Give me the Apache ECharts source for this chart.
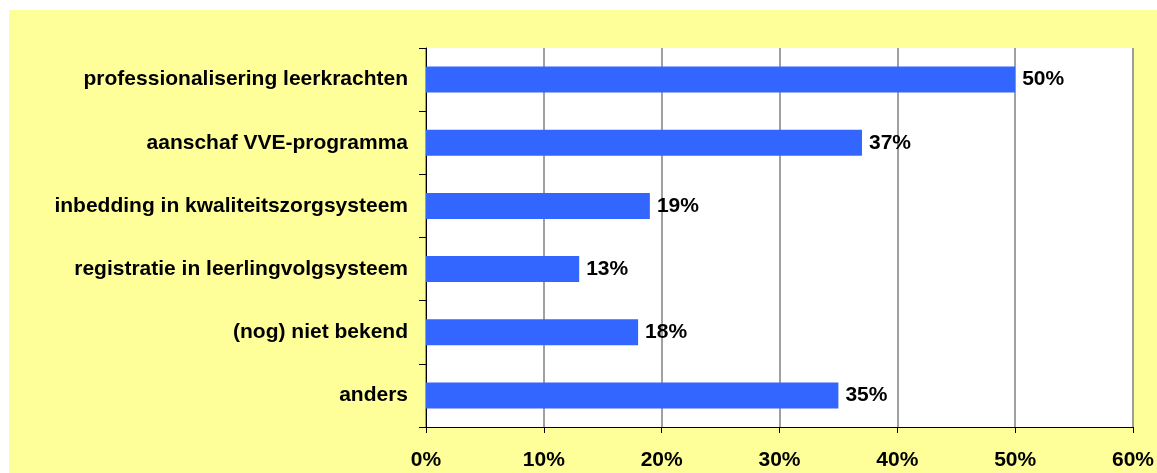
<!DOCTYPE html>
<html>
<head>
<meta charset="utf-8">
<script src="https://cdn.jsdelivr.net/npm/echarts@6/dist/echarts.min.js"></script>
<style>
  html, body { margin: 0; padding: 0; background: #fff; }
  #main { position: absolute; left: 9px; top: 10px; width: 1148px; height: 463px; }
</style>
</head>
<body>
<div id="main"></div>
<script>
// categorieen (van boven naar beneden)
var categories = [
    'professionalisering leerkrachten',
    'aanschaf VVE-programma',
    'inbedding in kwaliteitszorgsysteem',
    'registratie in leerlingvolgsysteem',
    '(nog) niet bekend',
    'anders'
];
// percentages
var values = [50, 37, 19, 13, 18, 35];
var xTicks = [0, 10, 20, 30, 40, 50, 60];

var chart = echarts.init(document.getElementById('main'));
var font = 'Liberation Sans, Arial, sans-serif';

var option = {
    backgroundColor: '#FFFF99',
    animation: false,
    grid: {
        left: 417,
        top: 38,
        right: 24,
        bottom: 46,
        show: true,
        backgroundColor: '#fff',
        borderWidth: 0
    },
    xAxis: {
        type: 'value',
        min: xTicks[0],
        max: xTicks[xTicks.length - 1],
        interval: 10,
        axisLine: { show: true, lineStyle: { color: '#000', width: 1 } },
        axisTick: { show: true, length: 6, lineStyle: { color: '#000' } },
        splitLine: { show: true, lineStyle: { color: '#808080', width: 1.5 } },
        axisLabel: {
            formatter: '{value}%',
            color: '#000',
            fontFamily: font,
            fontWeight: 'bold',
            fontSize: 21,
            margin: 23
        }
    },
    yAxis: {
        type: 'category',
        data: categories,
        inverse: true,
        axisLine: { show: true, lineStyle: { color: '#000', width: 1 } },
        axisTick: { show: true, length: 7, lineStyle: { color: '#000' } },
        axisLabel: {
            color: '#000',
            fontFamily: font,
            fontWeight: 'bold',
            fontSize: 21,
            margin: 18
        }
    },
    series: [{
        type: 'bar',
        data: values,
        barWidth: 26,
        itemStyle: { color: '#3366FF' },
        label: {
            show: true,
            position: 'right',
            distance: 7,
            formatter: '{c}%',
            color: '#000',
            fontFamily: font,
            fontWeight: 'bold',
            fontSize: 21
        }
    }]
};

chart.setOption(option);
</script>
</body>
</html>
